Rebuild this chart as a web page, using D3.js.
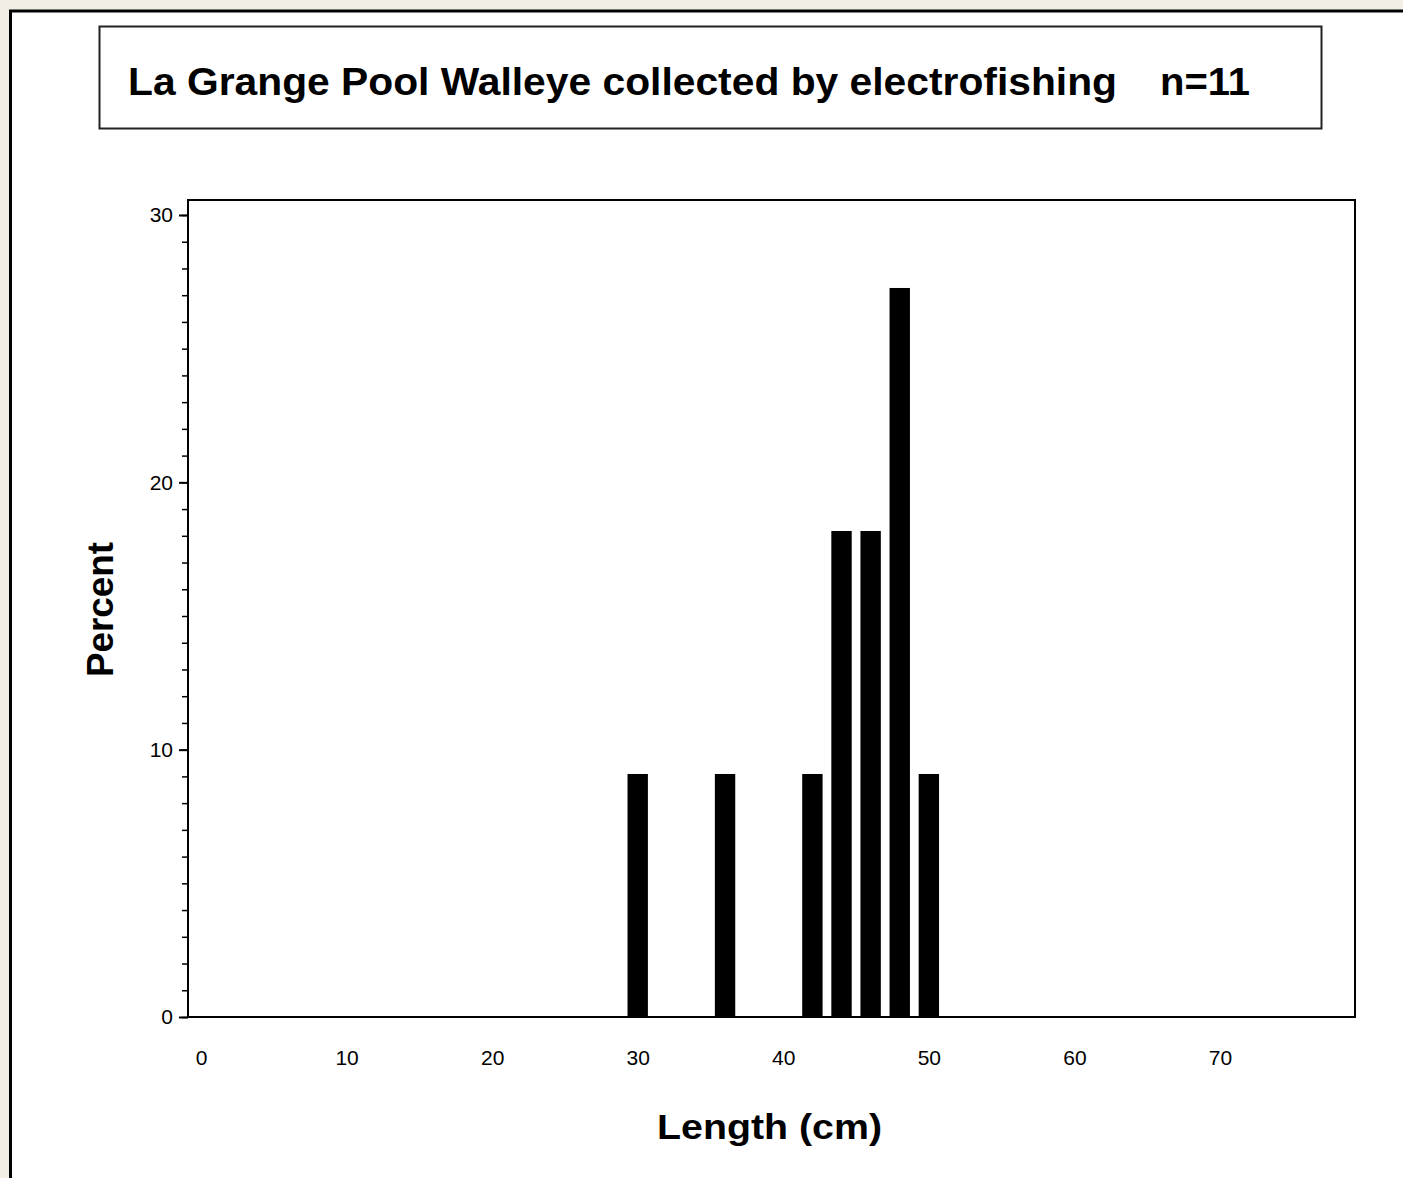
<!DOCTYPE html>
<html><head><meta charset="utf-8">
<script src="https://cdn.jsdelivr.net/npm/d3@7"></script>
<style>
html,body{margin:0;padding:0;background:#f2eee5;}
svg{display:block;}
</style></head>
<body>
<svg id="chart" width="1403" height="1178"></svg>
<script>
const titleText = "La Grange Pool Walleye collected by electrofishing";
const nText = "n=11";
const xLabel = "Length (cm)";
const yLabel = "Percent";
const midpoints = [30, 36, 42, 44, 46, 48, 50];
const percents = [9.09, 9.09, 9.09, 18.18, 18.18, 27.27, 9.09];
const xTicks = [0, 10, 20, 30, 40, 50, 60, 70];
const yTicks = [0, 10, 20, 30];
const yMinor = d3.range(0, 31, 1);
const barWidthUnits = 1.4;

const svg = d3.select("#chart");
// background texture-ish
svg.append("rect").attr("width",1403).attr("height",1178).attr("fill","#f2eee5");
// white panel
svg.append("rect").attr("x",10.5).attr("y",11).attr("width",1403).attr("height",1178)
  .attr("fill","#fff").attr("stroke","#000").attr("stroke-width",3);

// title box
svg.append("rect").attr("x",99.5).attr("y",26.5).attr("width",1222).attr("height",102)
  .attr("fill","#fff").attr("stroke","#222").attr("stroke-width",2);
const font = "'Liberation Sans', Arial, sans-serif";
svg.append("text").attr("x",128).attr("y",95).text(titleText)
  .attr("font-family",font).attr("font-weight","bold").attr("font-size",38)
  .attr("textLength",989).attr("lengthAdjust","spacingAndGlyphs");
svg.append("text").attr("x",1160).attr("y",95).text(nText)
  .attr("font-family",font).attr("font-weight","bold").attr("font-size",38)
  .attr("textLength",90).attr("lengthAdjust","spacingAndGlyphs");

const x = d3.scaleLinear().domain([0,70]).range([201,1220]);
const y = d3.scaleLinear().domain([0,30]).range([1017,215]);
const frame = {x0:188, x1:1355, y0:200, y1:1017};

// bars
svg.append("g").selectAll("rect").data(midpoints).join("rect")
  .attr("x",(d)=>x(d - barWidthUnits/2))
  .attr("width",x(barWidthUnits)-x(0))
  .attr("y",(d,i)=>y(percents[i]))
  .attr("height",(d,i)=>y(0)-y(percents[i]))
  .attr("fill","#000");

// frame
svg.append("rect").attr("x",frame.x0).attr("y",frame.y0)
  .attr("width",frame.x1-frame.x0).attr("height",frame.y1-frame.y0)
  .attr("fill","none").attr("stroke","#000").attr("stroke-width",2);

// y axis minor ticks
const yAxisMinor = d3.axisLeft(y).tickValues(yMinor).tickSize(6).tickFormat("");
svg.append("g").attr("transform",`translate(${frame.x0},0)`).call(yAxisMinor)
  .call(g=>g.select(".domain").remove())
  .call(g=>g.selectAll("line").attr("stroke","#000").attr("stroke-width",1.5));
// y axis major
const yAxis = d3.axisLeft(y).tickValues(yTicks).tickSize(9).tickPadding(6).tickFormat(d3.format("d"));
svg.append("g").attr("transform",`translate(${frame.x0},0)`).call(yAxis)
  .call(g=>g.select(".domain").remove())
  .call(g=>g.selectAll("line").attr("stroke","#000").attr("stroke-width",2))
  .call(g=>g.selectAll("text").attr("font-family",font).attr("font-size",21).attr("fill","#000"));

// x axis labels (no tick marks)
const xAxis = d3.axisBottom(x).tickValues(xTicks).tickSize(0).tickPadding(33).tickFormat(d3.format("d"));
svg.append("g").attr("transform",`translate(0,${frame.y1})`).call(xAxis)
  .call(g=>g.select(".domain").remove())
  .call(g=>g.selectAll("text").attr("font-family",font).attr("font-size",21).attr("fill","#000"));

// axis labels
svg.append("text").attr("x",(657+882)/2).attr("y",1139).attr("text-anchor","middle")
  .text(xLabel).attr("font-family",font).attr("font-weight","bold").attr("font-size",35)
  .attr("textLength",225).attr("lengthAdjust","spacingAndGlyphs");
svg.append("text").attr("transform",`translate(113,${(542+677)/2}) rotate(-90)`).attr("text-anchor","middle")
  .text(yLabel).attr("font-family",font).attr("font-weight","bold").attr("font-size",37)
  .attr("textLength",135).attr("lengthAdjust","spacingAndGlyphs");
</script>
</body></html>
